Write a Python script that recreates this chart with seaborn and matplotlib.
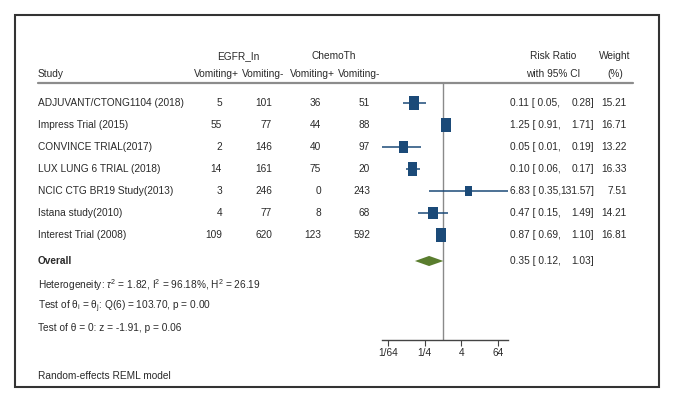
import matplotlib
matplotlib.use("Agg")
import matplotlib.pyplot as plt
import seaborn as sns
import pandas as pd
from matplotlib.patches import Rectangle

# data
studies = ["ADJUVANT/CTONG1104 (2018)", "Impress Trial (2015)", "CONVINCE TRIAL(2017)",
           "LUX LUNG 6 TRIAL (2018)", "NCIC CTG BR19 Study(2013)", "Istana study(2010)",
           "Interest Trial (2008)"]
egfr_pos = [5, 55, 2, 14, 3, 4, 109]
egfr_neg = [101, 77, 146, 161, 246, 77, 620]
chemo_pos = [36, 44, 40, 75, 0, 8, 123]
chemo_neg = [51, 88, 97, 20, 243, 68, 592]
rr = [0.11, 1.25, 0.05, 0.10, 6.83, 0.47, 0.87]
ci_lo = [0.05, 0.91, 0.01, 0.06, 0.35, 0.15, 0.69]
ci_hi = [0.28, 1.71, 0.19, 0.17, 131.57, 1.49, 1.10]
weight = [15.21, 16.71, 13.22, 16.33, 7.51, 14.21, 16.81]
overall_rr, overall_lo, overall_hi = 0.35, 0.12, 1.03
xticks = [1/64, 1/4, 4, 64]
xtick_labels = ["1/64", "1/4", "4", "64"]

df = pd.DataFrame({"study": studies, "rr": rr, "lo": ci_lo, "hi": ci_hi,
                   "weight": weight, "row": range(len(studies))})

sns.set_theme(style="white")
plt.rcParams["font.family"] = ["Liberation Sans", "DejaVu Sans"]
plt.rcParams["mathtext.fontset"] = "custom"
plt.rcParams["mathtext.rm"] = "Liberation Sans"
plt.rcParams["mathtext.it"] = "Liberation Sans:italic"

navy = "#1b4a78"
green = "#5a7d2e"
txt = "#2a2a2a"
fs = 7.3

fig = plt.figure(figsize=(6.76, 4.04), dpi=100)

# background axes in pixel units for the text table
bg = fig.add_axes([0, 0, 1, 1])
bg.set_xlim(0, 676)
bg.set_ylim(404, 0)
bg.axis("off")
bg.add_patch(Rectangle((15, 15), 644, 372, fill=False, ec="#333333", lw=1.5))
bg.plot([38, 633], [83, 83], color="#8c8c8c", lw=1.6)

# header
bg.text(38, 74, "Study", fontsize=fs, color=txt, va="center")
bg.text(238, 56, "EGFR_In", fontsize=fs, color=txt, va="center", ha="center")
bg.text(334, 56, "ChemoTh", fontsize=fs, color=txt, va="center", ha="center")
for xc, lab in zip([216, 263, 312, 359], ["Vomiting+", "Vomiting-", "Vomiting+", "Vomiting-"]):
    bg.text(xc, 74, lab, fontsize=fs, color=txt, va="center", ha="center")
bg.text(553, 56, "Risk Ratio", fontsize=fs, color=txt, va="center", ha="center")
bg.text(553, 74, "with 95% CI", fontsize=fs, color=txt, va="center", ha="center")
bg.text(615, 56, "Weight", fontsize=fs, color=txt, va="center", ha="center")
bg.text(615, 74, "(%)", fontsize=fs, color=txt, va="center", ha="center")

# study rows
for i, r in df.iterrows():
    y = 103 + 22 * i
    bg.text(38, y, r["study"], fontsize=fs, color=txt, va="center")
    for xr, v in zip([222, 272, 321, 370], [egfr_pos[i], egfr_neg[i], chemo_pos[i], chemo_neg[i]]):
        bg.text(xr, y, str(v), fontsize=fs, color=txt, va="center", ha="right")
    bg.text(510, y, f"{r['rr']:.2f} [ {r['lo']:.2f},", fontsize=fs, color=txt, va="center")
    bg.text(594, y, f"{r['hi']:.2f}]", fontsize=fs, color=txt, va="center", ha="right")
    bg.text(627, y, f"{r['weight']:.2f}", fontsize=fs, color=txt, va="center", ha="right")

bg.text(38, 261, "Overall", fontsize=fs, color=txt, va="center", fontweight="bold")
bg.text(510, 261, f"{overall_rr:.2f} [ {overall_lo:.2f},", fontsize=fs, color=txt, va="center")
bg.text(594, 261, f"{overall_hi:.2f}]", fontsize=fs, color=txt, va="center", ha="right")

bg.text(38, 285, r"Heterogeneity: $\tau^2$ = 1.82, $\mathrm{I}^2$ = 96.18%, $\mathrm{H}^2$ = 26.19",
        fontsize=fs, color=txt, va="center")
bg.text(38, 307, r"Test of $\mathrm{\theta_i}$ = $\mathrm{\theta_j}$: Q(6) = 103.70, p = 0.00",
        fontsize=fs, color=txt, va="center")
bg.text(38, 328, "Test of \u03b8 = 0: z = -1.91, p = 0.06", fontsize=fs, color=txt, va="center")
bg.text(38, 376, "Random-effects REML model", fontsize=fs, color=txt, va="center")

# forest panel
fx = fig.add_axes([382 / 676, (404 - 340) / 404, 126 / 676, 257 / 404])
fx.patch.set_alpha(0)
fx.set_xscale("log", base=2)
fx.axvline(1, color="#8a8a8a", lw=1.0, zorder=0)
fx.hlines(df["row"], df["lo"], df["hi"], color=navy, lw=1.1, zorder=2)
square = [(-1, -1.4), (1, -1.4), (1, 1.4), (-1, 1.4), (-1, -1.4)]
sns.scatterplot(data=df, x="rr", y="row", size="weight", sizes=(45, 101),
                size_norm=(min(weight), max(weight)), marker=square, color=navy,
                linewidth=0, legend=False, ax=fx, zorder=3)
oy = 7.18
fx.fill([overall_lo, overall_rr, overall_hi, overall_rr], [oy, oy - 0.23, oy, oy + 0.23],
        color=green, lw=0, zorder=3)

fx.set_xlim(2 ** -6.65, 2 ** 7.09)
fx.set_ylim(10.77, -0.909)
fx.set_xticks(xticks, xtick_labels)
fx.set_xticks([], minor=True)
fx.set_yticks([])
fx.set_xlabel("")
fx.set_ylabel("")
for s in ["top", "left", "right"]:
    fx.spines[s].set_visible(False)
fx.spines["bottom"].set_color("#444444")
fx.spines["bottom"].set_linewidth(1.0)
fx.tick_params(axis="x", bottom=True, length=4, width=0.8, color="#444444",
               labelsize=fs, labelcolor=txt, pad=2)

fig.savefig("out.png", dpi=100)
